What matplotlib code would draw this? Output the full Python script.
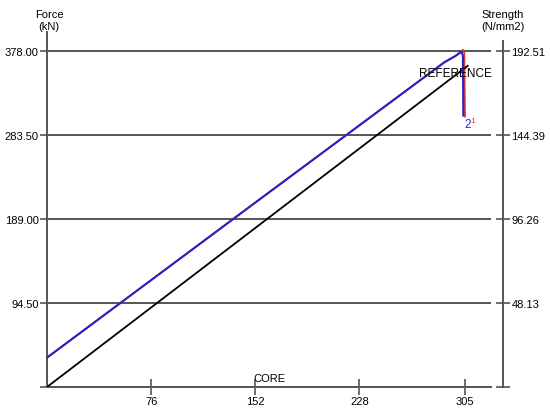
import numpy as np
import matplotlib.pyplot as plt

plt.rcParams['font.family'] = ['Liberation Sans', 'DejaVu Sans']

# ----- data ------------------------------------------------------------------
force_ticks = [0, 94.5, 189.0, 283.5, 378.0]
force_labels = ["", "94.50", "189.00", "283.50", "378.00"]
strength_labels = ["", "48.13", "96.26", "144.39", "192.51"]
core_ticks = [76, 152, 228, 305]

sample1_x = [0, 150, 290, 298, 301, 302.5, 303.5, 303.8]   # blue
sample1_y = [33, 205, 365, 372, 375.5, 377, 372, 305]
sample2_x = [0, 150, 290, 298, 302, 303.5, 304.5, 305.0]   # red
sample2_y = [33, 205, 365, 372, 376, 379, 376, 304]
ref_x = [0, 307]                                            # black
ref_y = [0, 361]
# ------------------------------------------------------------------------------

GRAY = "#555555"

fig = plt.figure(figsize=(5.5, 4.14), dpi=100)
ax = fig.add_axes([47 / 550, 1 - 388 / 414, (491 - 47) / 550, (388 - 33) / 414])
ax.set_xlim(0, 324)
ax.set_ylim(0, 399)

ax.plot(sample2_x, sample2_y, color="#e03535", lw=1.3, zorder=3)
ax.plot(sample1_x, sample1_y, color="#2a22c8", lw=1.5, zorder=4)
ax.plot(ref_x, ref_y, color="black", lw=1.3, zorder=3)

ax.set_yticks(force_ticks)
ax.set_yticklabels(force_labels)
ax.set_xticks(core_ticks)
ax.set_xticklabels([str(t) for t in core_ticks])
ax.tick_params(axis="y", direction="out", length=5, color=GRAY, width=1.2,
               labelsize=8, pad=1)
ax.tick_params(axis="x", direction="inout", length=11, color=GRAY, width=1.2,
               labelsize=8, pad=1)
ax.grid(axis="y", color=GRAY, lw=1.4)
ax.set_axisbelow(True)

for side in ["top", "right"]:
    ax.spines[side].set_visible(False)
for side in ["left", "bottom"]:
    ax.spines[side].set_color(GRAY)
    ax.spines[side].set_linewidth(1.4)

ax.text(0.5, 0.012, "CORE", transform=ax.transAxes, ha="center", va="bottom",
        fontsize=8)
ax.text(298, 353, "REFERENCE", ha="center", va="center", fontsize=8.5, zorder=5)
ax.text(307, 302, "2", color="#2a22c8", ha="center", va="top", fontsize=8.5, zorder=5)
ax.text(311, 303, "1", color="#e03535", ha="center", va="top", fontsize=6, zorder=5)

# right hand strength axis
ax2 = ax.twinx()
ax2.set_ylim(ax.get_ylim())
ax2.set_yticks(force_ticks)
ax2.set_yticklabels(strength_labels)
for side in ["top", "left", "bottom"]:
    ax2.spines[side].set_visible(False)
ax2.spines["right"].set_position(("outward", 8.6))
ax2.spines["right"].set_bounds(0, 389)
ax2.spines["right"].set_color(GRAY)
ax2.spines["right"].set_linewidth(1.4)
ax2.tick_params(axis="y", direction="inout", length=10, color=GRAY, width=1.2,
                labelsize=8, pad=1)

fig.text(49 / 550, 1 - 21 / 414, "Force\n(kN)", ha="center", va="center",
         fontsize=8, linespacing=1.3)
fig.text(503 / 550, 1 - 21 / 414, "Strength\n(N/mm2)", ha="center", va="center",
         fontsize=8, linespacing=1.3)

fig.savefig("out.png", dpi=100)
